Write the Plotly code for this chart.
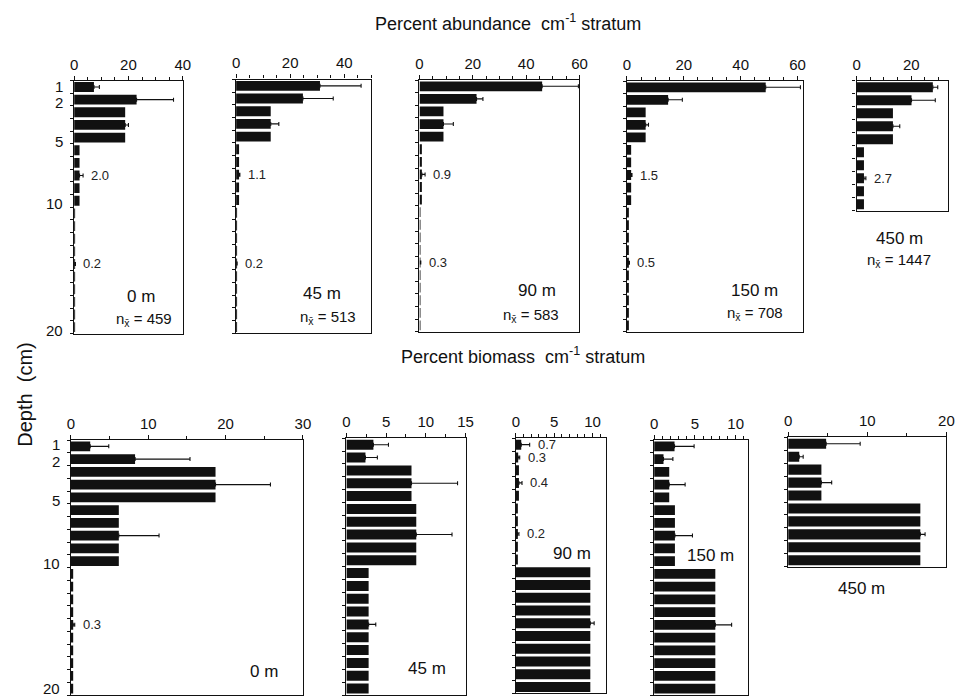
import plotly.graph_objects as go

W, H = 967, 699
FONT = "Liberation Sans, Arial, Helvetica, sans-serif"

# Sampled depth strata (cm): 0-1, 1-2, 2-5, 5-10, 10-20; each bar is one cm of sediment
group_top = [0, 1, 2, 5, 10]
group_bottom = [1, 2, 5, 10, 20]
sd_stratum = [1, 2, 4, 8, 15]   # stratum (1-based) carrying the SD whisker of each group

stations = ["0 m", "45 m", "90 m", "150 m", "450 m"]
n_mean = [459, 513, 583, 708, 1447]

# Percent abundance per cm stratum (group means) and +1 SD
abund_0 = [7.3, 23.0, 18.8, 2.0, 0.2]
abund_0_sd = [2.0, 13.6, 1.2, 1.3, 0.3]
abund_45 = [31.0, 24.7, 12.8, 1.1, 0.2]
abund_45_sd = [15.2, 11.2, 3.0, 0.3, 0.2]
abund_90 = [46.0, 21.4, 9.0, 0.9, 0.3]
abund_90_sd = [13.6, 2.4, 3.7, 1.2, 0.2]
abund_150 = [48.8, 14.5, 6.6, 1.5, 0.5]
abund_150_sd = [12.2, 5.0, 1.0, 0.3, 0.4]
abund_450 = [27.9, 20.1, 13.3, 2.7]
abund_450_sd = [1.8, 8.7, 2.5, 0.7]

# Percent biomass per cm stratum (group means) and +1 SD
bio_0 = [2.5, 8.3, 18.7, 6.2, 0.3]
bio_0_sd = [2.4, 7.1, 7.1, 5.2, 0.2]
bio_45 = [3.4, 2.4, 8.2, 8.8, 2.8]
bio_45_sd = [1.9, 1.5, 5.8, 4.5, 0.9]
bio_90 = [0.7, 0.3, 0.4, 0.2, 9.7]
bio_90_sd = [1.1, 0.2, 0.4, 0.2, 0.5]
bio_150 = [2.5, 1.15, 1.85, 2.55, 7.5]
bio_150_sd = [2.4, 1.15, 1.95, 2.15, 2.0]
bio_450 = [4.8, 1.4, 4.2, 16.7]
bio_450_sd = [4.3, 0.5, 1.3, 0.6]

# groups whose mean is printed next to the bars
abund_labelled = [[3, 4], [3, 4], [3, 4], [3, 4], [3]]
bio_labelled = [[4], [], [0, 1, 2, 3], [], []]

depth_ticks = ["1", "2", "5", "10", "20"]
depth_tick_pos_top = [0.45, 1.75, 4.8, 9.7, 19.8]
depth_tick_pos_bottom = [0.35, 1.7, 4.75, 9.7, 19.5]

# panel frames in pixels: left, right, top, bottom, x max, major dtick, minor dtick
top_frames = [
    (71, 181, 80.7, 333.5, 40, 20, 5),
    (235, 372, 79.5, 333.3, 50, 20, 5),
    (420.7, 582.7, 80, 331.7, 60, 20, 5),
    (630.7, 809.3, 81, 331.7, 62, 20, 5),
    (863.3, 956, 80.7, 210.7, 33.5, 20, 5),
]
bottom_frames = [
    (67.7, 302.7, 440, 695, 30, 10, 5),
    (346.7, 467.3, 438.3, 695, 15, 5, 2.5),
    (518.3, 610, 438.3, 693.3, 11.8, 5, 1),
    (658.3, 753.3, 440, 695, 11.5, 5, 1),
    (794, 954.3, 437.3, 566.7, 20, 10, 5),
]
top_name_pos = [(138.3, 296.7), (321.7, 293.3), (540, 290), (760, 290), (906.7, 238.3)]
top_n_pos = [(141.7, 319.5), (328.3, 317.5), (533.3, 316), (760, 313), (906.7, 260)]
bottom_name_pos = [(263, 671.7), (428.3, 668.3), (575, 553.3), (715, 555), (868.3, 588.3)]

abund = [abund_0, abund_45, abund_90, abund_150, abund_450]
abund_sd = [abund_0_sd, abund_45_sd, abund_90_sd, abund_150_sd, abund_450_sd]
bio = [bio_0, bio_45, bio_90, bio_150, bio_450]
bio_sd = [bio_0_sd, bio_45_sd, bio_90_sd, bio_150_sd, bio_450_sd]


def px(x):
    return x / W


def py(y):
    return 1 - y / H


fig = go.Figure()
layout = {}
annotations = []


def paper_text(x, y, text, size, angle=0, anchor="center"):
    annotations.append(dict(x=px(x), y=py(y), xref="paper", yref="paper", text=text,
                            showarrow=False, xanchor=anchor, yanchor="middle",
                            textangle=angle, font=dict(family=FONT, size=size, color="#111")))


def add_panel(idx, vals, sds, frame, labelled, name, name_pos, n_text, n_pos, depth_labels):
    left, right, top, bottom, xmax, dt, mdt = frame
    ngroups = len(vals)
    depth = group_bottom[ngroups - 1]
    xa = "x" if idx == 1 else f"x{idx}"
    ya = "y" if idx == 1 else f"y{idx}"
    xkey = "xaxis" if idx == 1 else f"xaxis{idx}"
    ykey = "yaxis" if idx == 1 else f"yaxis{idx}"

    # one bar per cm stratum, value of the group it belongs to
    xs, ys = [], []
    for g in range(ngroups):
        for d in range(group_top[g], group_bottom[g]):
            xs.append(vals[g])
            ys.append(d + 0.5)
    fig.add_trace(go.Bar(x=xs, y=ys, orientation="h", width=0.78,
                         marker=dict(color="#111111", line=dict(width=0)),
                         xaxis=xa, yaxis=ya, showlegend=False, hoverinfo="skip"))
    # +1 SD whiskers
    fig.add_trace(go.Scatter(
        x=vals, y=[sd_stratum[g] - 0.5 for g in range(ngroups)], mode="markers",
        marker=dict(size=1, color="rgba(0,0,0,0)"),
        error_x=dict(type="data", symmetric=False, array=sds, arrayminus=[0] * ngroups,
                     color="#111111", thickness=1.1, width=2),
        xaxis=xa, yaxis=ya, showlegend=False, hoverinfo="skip"))

    layout[xkey] = dict(
        domain=[px(left), px(right)], anchor=ya, side="top", range=[0, xmax],
        tickmode="linear", tick0=0, dtick=dt, ticks="outside", ticklen=4,
        tickcolor="#111", tickwidth=1,
        minor=dict(dtick=mdt, tick0=0, ticks="outside", ticklen=3, tickcolor="#111"),
        showline=True, mirror=True, linecolor="#111", linewidth=1.3,
        showgrid=False, zeroline=False, fixedrange=True,
        tickfont=dict(family=FONT, size=15, color="#111"))
    layout[ykey] = dict(
        domain=[py(bottom), py(top)], anchor=xa, range=[depth, 0],
        tickmode="array", tickvals=list(range(depth + 1)), showticklabels=False,
        ticks="outside", ticklen=3, tickcolor="#111",
        showline=True, mirror=True, linecolor="#111", linewidth=1.3,
        showgrid=False, zeroline=False, fixedrange=True)

    for g in labelled:
        annotations.append(dict(
            x=vals[g] + sds[g], y=sd_stratum[g] - 0.5, xref=xa, yref=ya,
            text=f"{vals[g]:.1f}", showarrow=False, xanchor="left", yanchor="middle",
            xshift=6, font=dict(family=FONT, size=13, color="#222")))

    paper_text(name_pos[0], name_pos[1], name, 17)
    if n_text:
        paper_text(n_pos[0], n_pos[1], n_text, 15)
    if depth_labels:
        for t, d in zip(depth_ticks, depth_labels):
            annotations.append(dict(x=px(left - 9), y=d, xref="paper", yref=ya, text=t,
                                    showarrow=False, xanchor="right", yanchor="middle",
                                    font=dict(family=FONT, size=15, color="#111")))


for i in range(5):
    add_panel(i + 1, abund[i], abund_sd[i], top_frames[i], abund_labelled[i],
              stations[i], top_name_pos[i], f"n<sub>x̄</sub> = {n_mean[i]}", top_n_pos[i],
              depth_tick_pos_top if i == 0 else None)
for i in range(5):
    add_panel(i + 6, bio[i], bio_sd[i], bottom_frames[i], bio_labelled[i],
              stations[i], bottom_name_pos[i], None, None,
              depth_tick_pos_bottom if i == 0 else None)

paper_text(510, 22, "Percent abundance  cm<sup>-1</sup> stratum", 18)
paper_text(526, 355, "Percent biomass  cm<sup>-1</sup> stratum", 18)
paper_text(21, 395, "Depth  (cm)", 20, angle=-90)

fig.update_layout(
    width=W, height=H, margin=dict(l=0, r=0, t=0, b=0),
    paper_bgcolor="white", plot_bgcolor="white", showlegend=False,
    annotations=annotations, **layout)

fig.write_html("out.html")
